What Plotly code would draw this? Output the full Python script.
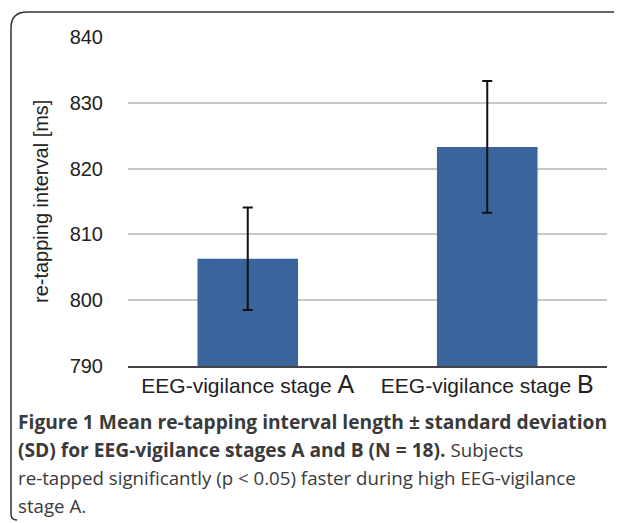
import plotly.graph_objects as go

categories = ["EEG-vigilance stage A", "EEG-vigilance stage B"]
tick_labels = ["EEG-vigilance stage <span style='font-size:25px'>A</span>",
               "EEG-vigilance stage <span style='font-size:25px'>B</span>"]
means = [806.3, 823.3]
sds = [7.8, 10.0]
y_ticks = [790, 800, 810, 820, 830, 840]

OFF = 8  # page body margin
W, H = 622 - OFF, 523 - OFF
L, R, T, B = 128 - OFF, 15, 37 - OFF, 157
PW, PH = W - L - R, H - T - B

def px(x):
    return (x - OFF - L) / PW

def py(y):
    return (H - B - (y - OFF)) / PH

fig = go.Figure()
fig.add_trace(go.Bar(
    x=categories, y=[m - 790 for m in means], base=790,
    marker=dict(color="#3a659c", line=dict(width=0)),
    error_y=dict(type="data", array=sds, color="#111111", thickness=2, width=5),
    hoverinfo="skip",
))

fig.update_layout(
    width=W, height=H,
    margin=dict(l=L, r=R, t=T, b=B),
    paper_bgcolor="white", plot_bgcolor="white",
    bargap=0.58,
    showlegend=False,
    font=dict(family="Liberation Sans, Arial, sans-serif", color="#222222"),
)
fig.update_yaxes(
    range=[790, 840], tickvals=y_ticks, showgrid=True, gridcolor="#c8c8c8",
    gridwidth=2, zeroline=False, showline=False, ticks="",
    tickfont=dict(size=20, color="#222222"), ticklabelstandoff=24,
)
fig.update_xaxes(
    tickvals=categories, ticktext=tick_labels, showline=True, linecolor="#444444",
    linewidth=2, ticks="", tickfont=dict(size=21, color="#222222"),
    range=[-0.5, 1.5],
)

# y-axis title
fig.add_annotation(
    text="re-tapping interval [ms]", textangle=-90, xref="paper", yref="paper",
    x=px(41), y=py(202), showarrow=False, font=dict(size=20, color="#222222"),
    xanchor="center", yanchor="middle",
)

# caption
cap_font = "Open Sans, sans-serif"
bs = "<span style='font-size:19.2px'><b>"
be = "</b></span>"
captions = [
    (bs + "Figure 1 Mean re-tapping interval length ± standard deviation" + be, 421),
    (bs + "(SD) for EEG-vigilance stages A and B (N = 18)." + be + " Subjects", 449),
    ("re-tapped significantly (p &lt; 0.05) faster during high EEG-vigilance", 477),
    ("stage A.", 505),
]
for txt, yy in captions:
    fig.add_annotation(
        text=txt, xref="paper", yref="paper", x=px(16), y=py(yy),
        xanchor="left", yanchor="middle", showarrow=False,
        font=dict(size=18.7, family=cap_font, color="#3a3a3a"),
    )

# panel border with rounded left corners
x0, y0, y1, rad = 11, 12, 520, 16
path = (f"M {px(630)},{py(y0)} L {px(x0 + rad)},{py(y0)} "
        f"Q {px(x0)},{py(y0)} {px(x0)},{py(y0 + rad)} "
        f"L {px(x0)},{py(y1 - 6)} Q {px(x0)},{py(y1)} {px(x0 + 6)},{py(y1)}")
fig.add_shape(type="path", path=path, xref="paper", yref="paper",
              line=dict(color="#333333", width=1.5), layer="above")

fig.write_html("out.html")
